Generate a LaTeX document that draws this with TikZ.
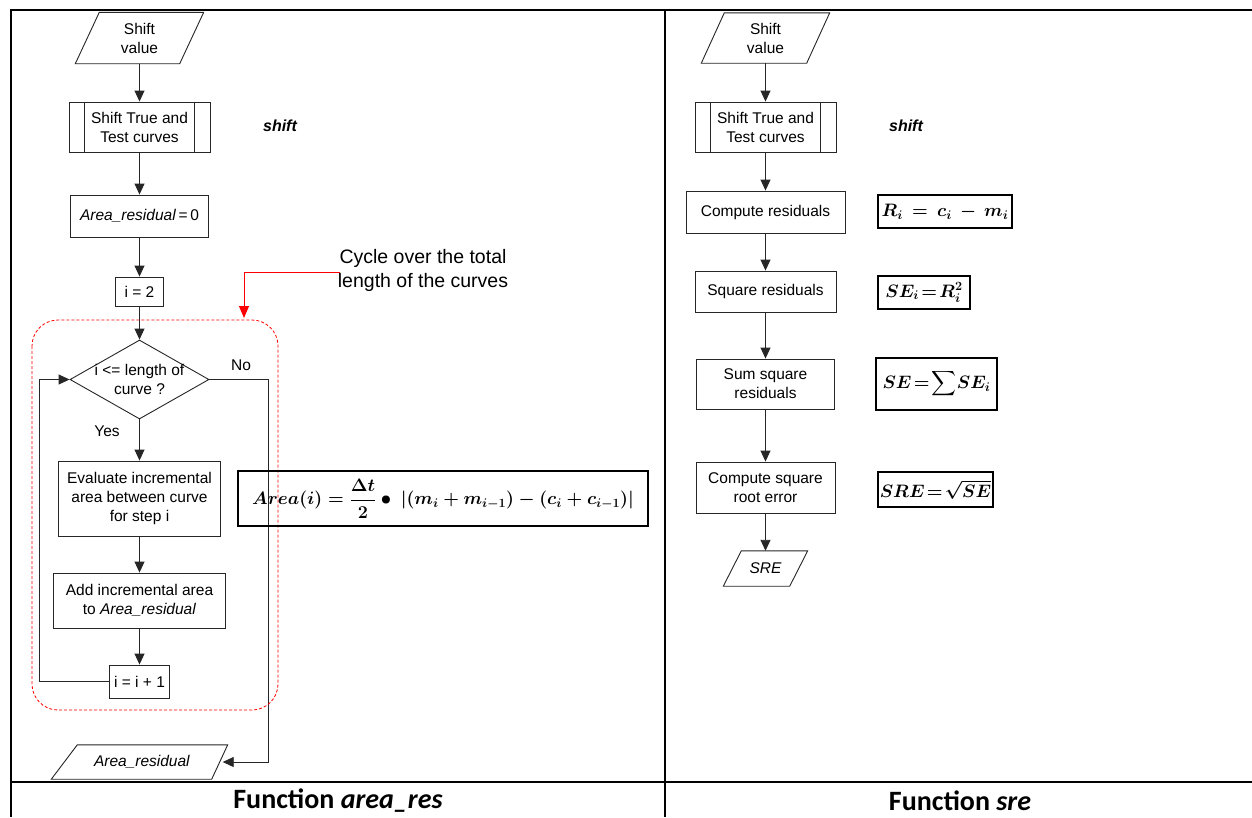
\RequirePackage{fix-cm}
\documentclass[tikz,border=0pt]{standalone}
\usepackage{amsmath}
\usepackage{fontspec}
\setmainfont{Liberation Sans}
\newfontfamily\calibri{Carlito}
\usetikzlibrary{shapes.geometric,arrows.meta,calc}
\tikzset{
  fc/.style={font=\fontsize{15.5}{19}\selectfont, align=center, inner sep=0pt},
  box/.style={fc, draw=black!85, line width=0.9pt},
  plain/.style={fc},
  conn/.style={draw=black!85, line width=0.9pt, -{Triangle[length=11pt,width=10pt]}},
  link/.style={draw=black!85, line width=0.9pt},
  iopath/.style={draw=black!85, line width=0.9pt},
  frm/.style={line width=2.6pt, black},
  fbox/.style={draw=black, line width=1.2pt, inner sep=0pt, font=\fontsize{18}{21}\selectfont\boldmath},
  foot/.style={font=\calibri\bfseries\fontsize{28}{32}\selectfont, inner sep=0pt},
  lbl/.style={font=\fontsize{15.5}{19}\selectfont, inner sep=0pt},
  sub/.style={font=\fontsize{16}{19}\selectfont\bfseries\itshape, inner sep=0pt}
}
\begin{document}
\begin{tikzpicture}[x=1pt,y=-1pt]
\useasboundingbox (0,0) rectangle (1252,817);
\fill[white] (0,0) rectangle (1252,817);
% frame
\draw[frm] (10,10) -- (1252,10);
\draw[frm] (11,10) -- (11,817);
\draw[frm] (665,10) -- (665,817);
\draw[frm] (11,782) -- (1252,782);
\node[foot] (f1) at (338,801) {Function \textit{area\_res}};
\node[foot] (f2) at (960,801) {Function \textit{sre}};

% ---------- left column ----------
\node[plain, minimum width=104pt, minimum height=51pt] (sv1) at (139.5,38) {Shift\\value};
\draw[iopath] ($(sv1.south west)+(-12,0)$) -- ($(sv1.north west)+(12,0)$) -- ($(sv1.north east)+(12,0)$) -- ($(sv1.south east)+(-12,0)$) -- cycle;
\node[box, minimum width=141pt, minimum height=50pt] (st1) at (139.5,127) {Shift True and\\Test curves};
\draw[link] ([xshift=16pt]st1.north west) -- ([xshift=16pt]st1.south west);
\draw[link] ([xshift=-16pt]st1.north east) -- ([xshift=-16pt]st1.south east);
\node[sub] (sh1) at (280,126) {shift};
\node[box, minimum width=138pt, minimum height=42pt] (ar0) at (139.5,216) {\textit{Area\_residual}\,=\,0};
\node[box, minimum width=48pt, minimum height=29pt] (i2) at (139.5,291.5) {i = 2};
\node[diamond, draw=black!85, line width=0.9pt, minimum width=139pt, minimum height=79pt, inner sep=0pt] (dia) at (139.5,379.5) {};
\node[plain] (diat) at (139.5,379) {i <= length of\\curve ?};
\node[lbl] (no) at (241,365) {No};
\node[lbl] (yes) at (107,431) {Yes};
\node[box, minimum width=162pt, minimum height=75pt] (ev) at (139.5,498.5) {Evaluate incremental\\area between curve\\for step i};
\node[box, minimum width=172pt, minimum height=55pt] (add) at (139.5,600.5) {Add incremental area\\to \textit{Area\_residual}};
\node[box, minimum width=60pt, minimum height=33pt] (inc) at (139.5,681.5) {i = i + 1};
\node[plain, minimum width=155pt, minimum height=34pt] (out1) at (142,762) {\textit{Area\_residual}};
\draw[iopath] ($(out1.south west)+(-13,0)$) -- ($(out1.north west)+(13,0)$) -- ($(out1.north east)+(8,0)$) -- ($(out1.south east)+(-8,0)$) -- cycle;

\draw[conn] (sv1.south) -- (st1.north);
\draw[conn] (st1.south) -- (ar0.north);
\draw[conn] (ar0.south) -- (i2.north);
\draw[conn] (i2.south) -- (dia.north);
\draw[conn] (dia.south) -- (ev.north);
\draw[conn] (ev.south) -- (add.north);
\draw[conn] (add.south) -- (inc.north);
\draw[conn] (inc.west) -- ++(-69.5,0) |- (dia.west);
\draw[conn] (dia.east) -- ++(59,0) |- ([xshift=3pt]out1.east);

% red dashed loop
\draw[red, dash pattern=on 3pt off 2pt, line width=0.8pt, rounded corners=26pt] (32,320) rectangle (278,710);
\node[font=\fontsize{19.5}{24}\selectfont, align=center, inner sep=0pt] (cyc) at (423,270) {Cycle over the total\\length of the curves};
\coordinate (cycend) at (244,318);
\draw[red, line width=1pt, -{Triangle[length=12pt,width=10pt]}] (340,272) -| (cycend);

\node[fbox, minimum width=410pt, minimum height=55pt] (fa) at (443,498.5) {$Area(i)=\dfrac{\Delta t}{2}\bullet\ \left|(m_i+m_{i-1})-(c_i+c_{i-1})\right|$};

% ---------- right column ----------
\node[plain, minimum width=105pt, minimum height=50pt] (sv2) at (765.5,38) {Shift\\value};
\draw[iopath] ($(sv2.south west)+(-11.5,0)$) -- ($(sv2.north west)+(11.5,0)$) -- ($(sv2.north east)+(11.5,0)$) -- ($(sv2.south east)+(-11.5,0)$) -- cycle;
\node[box, minimum width=141pt, minimum height=50pt] (st2) at (765.5,127) {Shift True and\\Test curves};
\draw[link] ([xshift=16pt]st2.north west) -- ([xshift=16pt]st2.south west);
\draw[link] ([xshift=-16pt]st2.north east) -- ([xshift=-16pt]st2.south east);
\node[sub] (sh2) at (906,126) {shift};
\node[box, minimum width=159pt, minimum height=42pt] (cr) at (765.5,212) {Compute residuals};
\node[box, minimum width=141pt, minimum height=41pt] (sq) at (765.5,291.5) {Square residuals};
\node[box, minimum width=138pt, minimum height=50pt] (ss) at (765.5,384) {Sum square\\residuals};
\node[box, minimum width=139pt, minimum height=51pt] (cs) at (765.5,487.5) {Compute square\\root error};
\node[plain, minimum width=66pt, minimum height=35pt] (out2) at (765.5,568.5) {\textit{SRE}};
\draw[iopath] ($(out2.south west)+(-9,0)$) -- ($(out2.north west)+(9,0)$) -- ($(out2.north east)+(9,0)$) -- ($(out2.south east)+(-9,0)$) -- cycle;

\draw[conn] (sv2.south) -- (st2.north);
\draw[conn] (st2.south) -- (cr.north);
\draw[conn] (cr.south) -- (sq.north);
\draw[conn] (sq.south) -- (ss.north);
\draw[conn] (ss.south) -- (cs.north);
\draw[conn] (cs.south) -- (out2.north);

\node[fbox, minimum width=134pt, minimum height=33pt] (fr) at (945,211.5) {$R_i\,=\,c_i\,-\,m_i$};
\node[fbox, minimum width=92pt, minimum height=33pt] (fse) at (924,292.5) {$SE_i\!=\!R_i^2$};
\node[fbox, minimum width=121pt, minimum height=52pt] (fsum) at (936.5,384) {$SE\!=\!\displaystyle\sum\! SE_i$};
\node[fbox, minimum width=115pt, minimum height=35pt] (fsre) at (935.5,489.5) {$SRE\!=\!\sqrt{SE}$};
\end{tikzpicture}
\end{document}
